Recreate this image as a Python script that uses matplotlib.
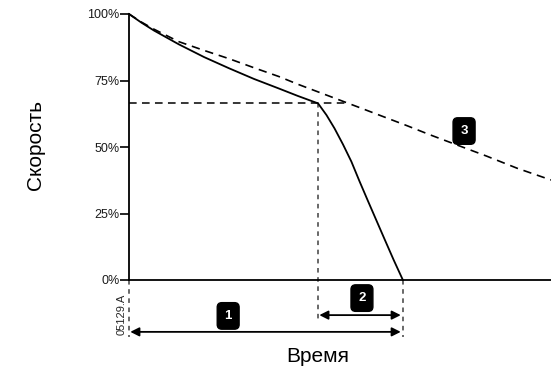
import matplotlib
matplotlib.use("Agg")
import matplotlib.pyplot as plt

plt.rcParams['font.family'] = ['Liberation Sans', 'DejaVu Sans']

# время (усл. ед., 0..100) и скорость (%)
t_main = [0, 2.9, 5.9, 11.8, 17.8, 23.7, 29.6, 35.5, 40, 44.8,
          46.8, 48.7, 50.7, 52.7, 54.6, 56.6, 58.6, 60.6, 62.7, 64.9]
v_main = [100, 96.8, 93.8, 88.6, 83.8, 79.6, 75.6, 72, 69.2, 66.4,
          62, 57, 51, 44.5, 37.2, 29.8, 22.5, 15.2, 7.6, 0]

t_coast = [0, 2.9, 5.9, 11.8, 17.8, 23.7, 29.6, 35.5, 40, 45,
           55, 65.9, 71.3, 78, 84.7, 92, 100]
v_coast = [100, 97, 94.3, 89.6, 86.3, 83.2, 79.8, 76.5, 73.6, 70.6,
           64.6, 58, 54.6, 50.6, 46.6, 42, 37.6]

t_switch = 44.8
v_switch = 66.4
t_stop = 64.9

yticks = [0, 25, 50, 75, 100]
ytick_labels = ['0%', '25%', '50%', '75%', '100%']

fig = plt.figure(figsize=(5.51, 3.72), dpi=100)
ax = fig.add_axes([129 / 551, 1 - 280 / 372, 422 / 551, 266 / 372])
ax.set_xlim(0, 100)
ax.set_ylim(0, 100)

ax.plot(t_main, v_main, color='black', lw=1.3, clip_on=False, zorder=3)
ax.plot(t_coast, v_coast, color='black', lw=1.2, dashes=(5, 3.5), clip_on=False, zorder=3)

# вспомогательные пунктиры
ax.plot([0, 51.9], [v_switch, v_switch], color='black', lw=1.1, dashes=(5, 3.5))
ax.plot([t_switch, t_switch], [v_switch, -15.8], color='0.25', lw=1.1, dashes=(3, 3), clip_on=False)
ax.plot([0, 0], [0, -21.4], color='0.25', lw=1.1, dashes=(3, 3), clip_on=False)
ax.plot([t_stop, t_stop], [0, -21.4], color='0.25', lw=1.1, dashes=(3, 3), clip_on=False)

# стрелки интервалов
arrow = dict(arrowstyle='<|-|>', color='black', lw=1.3, mutation_scale=13, shrinkA=0, shrinkB=0)
ax.annotate('', xy=(t_stop - 0.5, -19.5), xytext=(0.3, -19.5), arrowprops=arrow, annotation_clip=False)
ax.annotate('', xy=(t_stop - 0.5, -13.2), xytext=(t_switch + 0.3, -13.2), arrowprops=arrow, annotation_clip=False)

badge = dict(boxstyle='round,pad=0.55,rounding_size=0.35', facecolor='black', edgecolor='black')
for x, y, s in [(23.5, -13.5, '1'), (55.2, -6.8, '2'), (79.4, 56, '3')]:
    ax.text(x, y, s, color='white', fontsize=9.5, fontweight='bold', ha='center', va='center',
            bbox=badge, clip_on=False, zorder=5)

ax.text(-1.7, -12.8, '05129.A', rotation=90, fontsize=8, ha='center', va='center', color='0.15')

ax.set_yticks(yticks)
ax.set_yticklabels(ytick_labels, fontsize=9, color='0.1')
ax.set_xticks([])
ax.tick_params(axis='y', direction='out', length=6.5, width=1.2, pad=0.5)
for side in ['top', 'right']:
    ax.spines[side].set_visible(False)
for side in ['left', 'bottom']:
    ax.spines[side].set_linewidth(1.3)

fig.text(35 / 551, 1 - 145 / 372, 'Скорость', rotation=90, fontsize=15, ha='center', va='center')
fig.text(318 / 551, 1 - 356 / 372, 'Время', fontsize=15, ha='center', va='center')

fig.savefig('out.png', dpi=100)
